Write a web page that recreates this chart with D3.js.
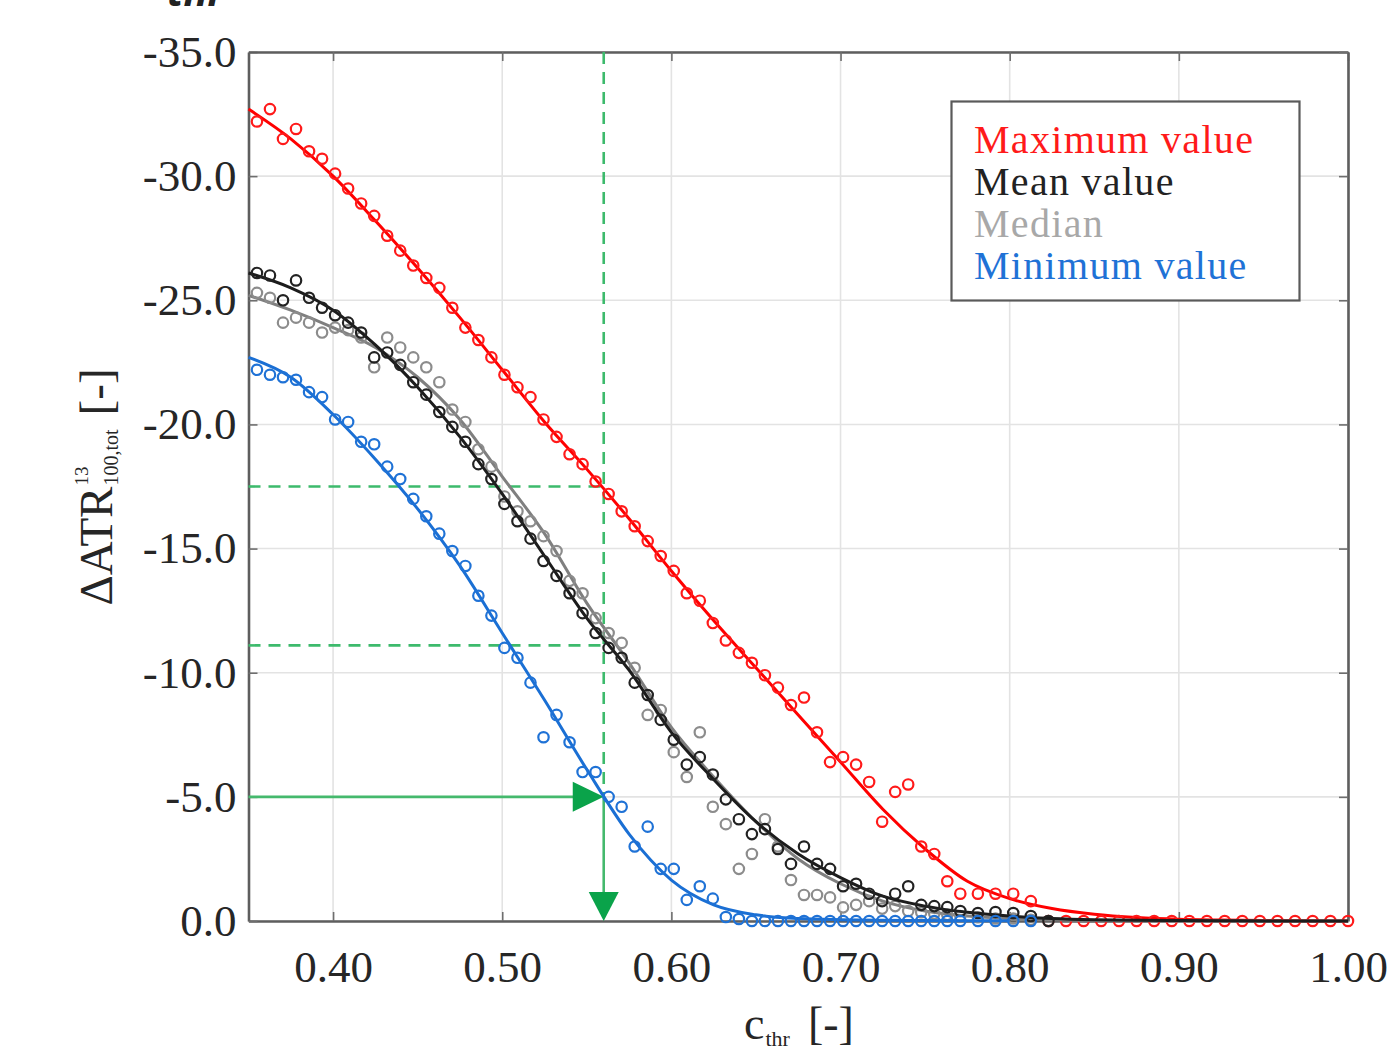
<!DOCTYPE html>
<html>
<head>
<meta charset="utf-8">
<script src="https://cdn.jsdelivr.net/npm/d3@7"></script>
<style>
  html, body { margin: 0; padding: 0; background: #fff; }
  svg { display: block; }
</style>
</head>
<body>
<div id="chart"></div>
<script>
// c_thr sample points shared by the four scatter series
const cThr = [0.3550, 0.3627, 0.3704, 0.3781, 0.3858, 0.3935, 0.4012, 0.4089, 0.4166, 0.4243,
  0.4320, 0.4397, 0.4474, 0.4551, 0.4628, 0.4705, 0.4782, 0.4859, 0.4936, 0.5013,
  0.5090, 0.5167, 0.5244, 0.5321, 0.5398, 0.5475, 0.5552, 0.5629, 0.5706, 0.5783,
  0.5860, 0.5937, 0.6014, 0.6091, 0.6168, 0.6245, 0.6322, 0.6399, 0.6476, 0.6553,
  0.6630, 0.6707, 0.6784, 0.6861, 0.6938, 0.7015, 0.7092, 0.7169, 0.7246, 0.7323,
  0.7400, 0.7477, 0.7554, 0.7631, 0.7708, 0.7812, 0.7916, 0.8021, 0.8125, 0.8229,
  0.8333, 0.8437, 0.8541, 0.8646, 0.8750, 0.8854, 0.8958, 0.9062, 0.9166, 0.9271,
  0.9375, 0.9479, 0.9583, 0.9687, 0.9791, 0.9896, 1.0000];

const maxValue = [-32.2, -32.7, -31.5, -31.9, -31.0, -30.7, -30.1, -29.5, -28.9, -28.4,
  -27.6, -27.0, -26.4, -25.9, -25.5, -24.7, -23.9, -23.4, -22.7, -22.0,
  -21.5, -21.1, -20.2, -19.5, -18.8, -18.4, -17.7, -17.2, -16.5, -15.9,
  -15.3, -14.7, -14.1, -13.2, -12.9, -12.0, -11.3, -10.8, -10.4, -9.9,
  -9.4, -8.7, -9.0, -7.6, -6.4, -6.6, -6.3, -5.6, -4.0, -5.2,
  -5.5, -3.0, -2.7, -1.6, -1.1, -1.1, -1.1, -1.1, -0.8, 0,
  0, 0, 0, 0, 0, 0, 0, 0, 0, 0,
  0, 0, 0, 0, 0, 0, 0];

const meanValue = [-26.1, -26.0, -25.0, -25.8, -25.1, -24.7, -24.4, -24.1, -23.7, -22.7,
  -22.9, -22.4, -21.7, -21.2, -20.5, -19.9, -19.3, -18.4, -17.8, -16.8,
  -16.1, -15.4, -14.5, -13.9, -13.2, -12.4, -11.6, -11.0, -10.6, -9.6,
  -9.1, -8.1, -7.3, -6.3, -6.6, -5.9, -4.9, -4.1, -3.5, -3.7,
  -2.9, -2.3, -3.0, -2.3, -2.1, -1.4, -1.5, -1.1, -0.8, -1.1,
  -1.4, -0.65, -0.6, -0.56, -0.4, -0.32, -0.36, -0.32, -0.2, 0,
  null, null, null, null, null, null, null, null, null, null,
  null, null, null, null, null, null, null];

const medianValue = [-25.3, -25.1, -24.1, -24.3, -24.1, -23.7, -23.9, -23.8, -23.5, -22.3,
  -23.5, -23.1, -22.7, -22.3, -21.7, -20.6, -20.1, -19.0, -18.3, -17.1,
  -16.5, -16.1, -15.5, -14.9, -13.7, -13.2, -12.2, -11.6, -11.2, -10.2,
  -8.3, -8.5, -6.8, -5.8, -7.6, -4.6, -3.9, -2.1, -2.7, -4.1,
  -3.0, -1.65, -1.05, -1.05, -0.95, -0.55, -0.65, -0.8, -0.5, -0.6,
  -0.4, -0.35, -0.3, -0.25, -0.2, -0.15, -0.1, -0.1, -0.05, 0,
  null, null, null, null, null, null, null, null, null, null,
  null, null, null, null, null, null, null];

const minValue = [-22.2, -22.0, -21.9, -21.8, -21.3, -21.1, -20.2, -20.1, -19.3, -19.2,
  -18.3, -17.8, -17.0, -16.3, -15.6, -14.9, -14.3, -13.1, -12.3, -11.0,
  -10.6, -9.6, -7.4, -8.3, -7.2, -6.0, -6.0, -5.0, -4.6, -3.0,
  -3.8, -2.1, -2.1, -0.85, -1.4, -0.9, -0.16, -0.08, 0, 0,
  0, 0, 0, 0, 0, 0, 0, 0, 0, 0,
  0, 0, 0, 0, 0, 0, 0, 0, 0, null,
  null, null, null, null, null, null, null, null, null, null,
  null, null, null, null, null, null, null];

// fitted curves, every 0.025
const fitC = [0.35, 0.375, 0.40, 0.425, 0.45, 0.475, 0.50, 0.525, 0.55, 0.575,
  0.60, 0.625, 0.65, 0.675, 0.70, 0.725, 0.75, 0.775, 0.80, 0.825,
  0.85, 0.875, 0.90, 0.925, 0.95, 0.975, 1.00];
const maxFit = [-32.7, -31.5, -30.0, -28.2, -26.3, -24.3, -22.2, -20.1, -18.2, -16.2,
  -14.1, -12.1, -10.2, -8.3, -6.4, -4.5, -2.9, -1.6, -0.9, -0.5,
  -0.27, -0.14, -0.07, -0.04, -0.02, -0.01, 0];
const meanFit = [-26.1, -25.5, -24.6, -23.2, -21.5, -19.5, -17.2, -14.7, -12.2, -10.1,
  -7.6, -5.7, -4.0, -2.7, -1.75, -1.0, -0.6, -0.35, -0.2, -0.1,
  -0.05, -0.03, -0.02, -0.01, 0, 0, 0];
const medianFit = [-25.2, -24.6, -23.9, -23.1, -21.9, -20.2, -17.9, -15.6, -12.8, -10.4,
  -7.8, -5.8, -4.0, -2.5, -1.5, -0.8, -0.4, -0.2, -0.1, -0.05,
  -0.02, -0.01, 0, 0, 0, 0, 0];
const minFit = [-22.7, -21.9, -20.4, -18.6, -16.6, -14.3, -11.6, -8.9, -6.1, -3.5,
  -1.65, -0.65, -0.25, -0.1, -0.05, -0.03, -0.02, -0.01, -0.01, null,
  null, null, null, null, null, null, null];

const xTicks = [0.40, 0.50, 0.60, 0.70, 0.80, 0.90, 1.00];
const yTicks = [-35, -30, -25, -20, -15, -10, -5, 0];

const legendLabels = ["Maximum value", "Mean value", "Median", "Minimum value"];

// read-off example
const readC = 0.56;
const readLevels = [-17.5, -11.1];
const targetLevel = -5.0;

const width = 1391;
const height = 1052;
const serif = "'Liberation Serif', 'Times New Roman', serif";

const series = [
  { name: legendLabels[0], values: maxValue, fit: maxFit, line: "#ff0000", mark: "#ff1a1a", text: "#ff1a1a" },
  { name: legendLabels[2], values: medianValue, fit: medianFit, line: "#7f7f7f", mark: "#8c8c8c", text: "#a8a8a8" },
  { name: legendLabels[1], values: meanValue, fit: meanFit, line: "#1c1c1c", mark: "#222222", text: "#222222" },
  { name: legendLabels[3], values: minValue, fit: minFit, line: "#1a6fd4", mark: "#1f72d6", text: "#1f72d6" }
];

const locale = d3.formatLocale({ decimal: ".", thousands: ",", grouping: [3], currency: ["", ""], minus: "-" });
const fmtX = locale.format(".2f");
const fmtY = locale.format(".1f");

const svg = d3.select("#chart")
  .append("svg")
  .attr("width", width)
  .attr("height", height)
  .attr("viewBox", [0, 0, width, height]);

const x = d3.scaleLinear().domain([0.35, 1.0]).range([248.5, 1348]);
const y = d3.scaleLinear().domain([-35, 0]).range([52, 921]);

// grid
const grid = svg.append("g").attr("stroke", "#e3e3e3").attr("stroke-width", 1.6);
grid.selectAll("line.gx")
  .data(xTicks)
  .join("line")
  .attr("class", "gx")
  .attr("x1", d => x(d)).attr("x2", d => x(d))
  .attr("y1", y(-35)).attr("y2", y(0));
grid.selectAll("line.gy")
  .data(yTicks)
  .join("line")
  .attr("class", "gy")
  .attr("x1", x(0.35)).attr("x2", x(1.0))
  .attr("y1", d => y(d)).attr("y2", d => y(d));

// axes, ticks inward on all four sides
function styleAxis(g) {
  g.attr("font-family", serif).attr("font-size", 45).attr("color", "#262626");
  g.selectAll(".domain").attr("stroke", "#5e5e5e").attr("stroke-width", 2.6);
  g.selectAll(".tick line").attr("stroke", "#6e6e6e").attr("stroke-width", 1.6);
}

svg.append("g")
  .attr("transform", `translate(0,${y(0)})`)
  .call(d3.axisBottom(x).tickValues(xTicks).tickSizeInner(-9).tickSizeOuter(0).tickPadding(29).tickFormat(fmtX))
  .call(styleAxis);

svg.append("g")
  .attr("transform", `translate(${x(0.35)},0)`)
  .call(d3.axisLeft(y).tickValues(yTicks).tickSizeInner(-9).tickSizeOuter(0).tickPadding(12).tickFormat(fmtY))
  .call(styleAxis);

svg.append("g")
  .attr("transform", `translate(0,${y(-35)})`)
  .call(d3.axisTop(x).tickValues(xTicks).tickSizeInner(-9).tickSizeOuter(0).tickFormat(() => ""))
  .call(styleAxis);

svg.append("g")
  .attr("transform", `translate(${x(1.0)},0)`)
  .call(d3.axisRight(y).tickValues(yTicks).tickSizeInner(-9).tickSizeOuter(0).tickFormat(() => ""))
  .call(styleAxis);

// dashed read-off guides
const guides = svg.append("g")
  .attr("stroke", "#3dba6c")
  .attr("stroke-width", 2.6)
  .attr("stroke-dasharray", "12,8")
  .attr("fill", "none");
guides.append("line")
  .attr("x1", x(readC)).attr("x2", x(readC))
  .attr("y1", y(-35)).attr("y2", y(targetLevel));
guides.selectAll("line.lvl")
  .data(readLevels)
  .join("line")
  .attr("class", "lvl")
  .attr("x1", x(0.35)).attr("x2", x(readC))
  .attr("y1", d => y(d)).attr("y2", d => y(d));

// arrows
const arrows = svg.append("g");
arrows.append("line")
  .attr("x1", x(0.35)).attr("x2", x(readC) - 20)
  .attr("y1", y(targetLevel)).attr("y2", y(targetLevel))
  .attr("stroke", "#45b96d").attr("stroke-width", 2.6);
arrows.append("line")
  .attr("x1", x(readC)).attr("x2", x(readC))
  .attr("y1", y(targetLevel)).attr("y2", y(0) - 20)
  .attr("stroke", "#45b96d").attr("stroke-width", 2.6);
const tipX = x(readC), tipY = y(targetLevel);
arrows.append("path")
  .attr("d", `M${tipX},${tipY} L${tipX - 31},${tipY - 15} L${tipX - 31},${tipY + 15} Z`)
  .attr("fill", "#0aa34a");
arrows.append("path")
  .attr("d", `M${tipX},${y(0)} L${tipX - 15},${y(0) - 29} L${tipX + 15},${y(0) - 29} Z`)
  .attr("fill", "#0aa34a");

// data: fitted lines and open-circle samples
const line = d3.line()
  .defined(d => d.v != null)
  .x(d => x(d.c))
  .y(d => y(d.v))
  .curve(d3.curveMonotoneX);

series.forEach(s => {
  const g = svg.append("g");
  const fitPts = fitC.map((c, i) => ({ c, v: s.fit[i] }));
  g.append("path")
    .datum(fitPts)
    .attr("d", line)
    .attr("fill", "none")
    .attr("stroke", s.line)
    .attr("stroke-width", 3);
  const pts = cThr.map((c, i) => ({ c, v: s.values[i] })).filter(d => d.v != null);
  g.selectAll("circle")
    .data(pts)
    .join("circle")
    .attr("cx", d => x(d.c))
    .attr("cy", d => y(d.v))
    .attr("r", 5.2)
    .attr("fill", "none")
    .attr("stroke", s.mark)
    .attr("stroke-width", 2.2);
});

// legend
const legend = svg.append("g")
  .attr("font-family", serif)
  .attr("font-size", 40)
  .attr("letter-spacing", 1.3);
legend.append("rect")
  .attr("x", 951.5).attr("y", 101.5)
  .attr("width", 348).attr("height", 199)
  .attr("fill", "#fff")
  .attr("stroke", "#5a5a5a")
  .attr("stroke-width", 2.2);
const legendOrder = [series[0], series[2], series[1], series[3]];
legend.selectAll("text")
  .data(legendOrder)
  .join("text")
  .attr("x", 974)
  .attr("y", (d, i) => 153 + i * 42)
  .attr("fill", d => d.text)
  .text(d => d.name);

// y label: ΔATR^13_{100,tot} [-]
const yLab = svg.append("g")
  .attr("transform", "translate(112,487) rotate(-90)")
  .attr("font-family", serif)
  .attr("fill", "#262626");
const yInner = yLab.append("g");
const yMain = yInner.append("text").attr("font-size", 47).text("ΔATR");
let cur = yMain.node().getComputedTextLength() + 1;
const ySup = yInner.append("text").attr("x", cur).attr("y", -24).attr("font-size", 19).text("13");
const ySub = yInner.append("text").attr("x", cur).attr("y", 6).attr("font-size", 20).text("100,tot");
cur += Math.max(ySup.node().getComputedTextLength(), ySub.node().getComputedTextLength()) + 14;
const yUnit = yInner.append("text").attr("x", cur).attr("font-size", 47).text("[-]");
cur += yUnit.node().getComputedTextLength();
yInner.attr("transform", `translate(${-cur / 2},0)`);

// x label: c_thr [-]
const xLab = svg.append("g")
  .attr("transform", "translate(799,1039)")
  .attr("font-family", serif)
  .attr("fill", "#262626");
const xInner = xLab.append("g");
const xMain = xInner.append("text").attr("font-size", 46).text("c");
let xc = xMain.node().getComputedTextLength() + 1;
const xSub = xInner.append("text").attr("x", xc).attr("y", 7).attr("font-size", 22).text("thr");
xc += xSub.node().getComputedTextLength() + 18;
const xUnit = xInner.append("text").attr("x", xc).attr("font-size", 46).text("[-]");
xc += xUnit.node().getComputedTextLength();
xInner.attr("transform", `translate(${-xc / 2},0)`);

// clipped caption fragment at the top edge
svg.append("text")
  .attr("x", 167).attr("y", 6)
  .attr("font-family", "'Open Sans', sans-serif")
  .attr("font-style", "italic")
  .attr("font-weight", "bold")
  .attr("font-size", 40)
  .attr("fill", "#222")
  .text("thr");
</script>
</body>
</html>
